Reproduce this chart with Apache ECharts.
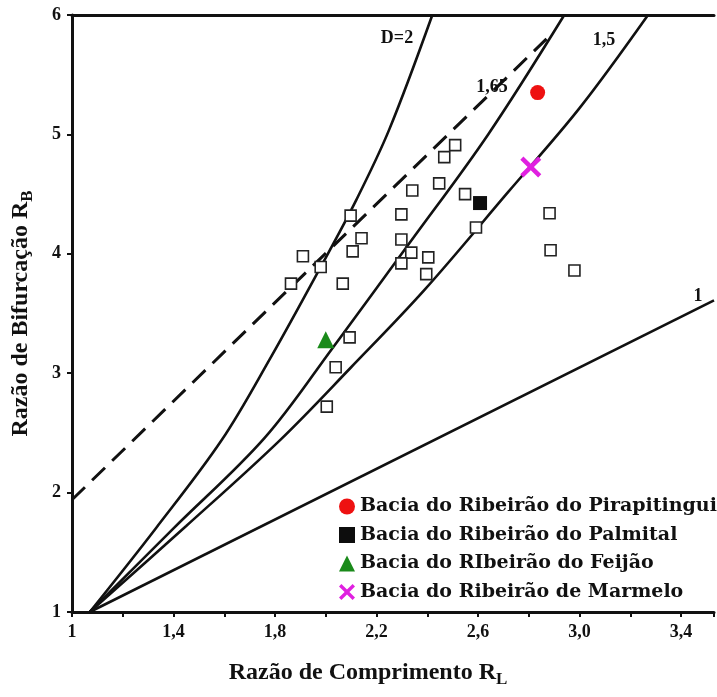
<!DOCTYPE html>
<html><head><meta charset="utf-8">
<script src="https://cdn.jsdelivr.net/npm/echarts@6/dist/echarts.min.js"></script>
<style>html,body{margin:0;padding:0;background:#fff}#c{width:717px;height:697px}</style>
</head><body><div id="c"></div>
<script>
// ---- data ----
const xTickValues = [1, 1.4, 1.8, 2.2, 2.6, 3.0, 3.4];
const xTickLabels = ['1', '1,4', '1,8', '2,2', '2,6', '3,0', '3,4'];
const yTickLabels = ['1', '2', '3', '4', '5', '6'];

const otherBasins = [
  [2.51, 4.91], [2.467, 4.81], [2.447, 4.59], [2.341, 4.53], [2.549, 4.50],
  [2.298, 4.33], [2.098, 4.32], [2.592, 4.22], [2.141, 4.13], [2.298, 4.12],
  [2.106, 4.02], [2.337, 4.01], [2.404, 3.97], [1.910, 3.98], [1.980, 3.89],
  [2.298, 3.92], [2.396, 3.83], [1.863, 3.75], [2.067, 3.75], [2.094, 3.30],
  [2.039, 3.05], [2.004, 2.72], [2.882, 4.34], [2.886, 4.03], [2.980, 3.86]
];
const pirapitingui = [[2.835, 5.35]];
const palmital = [[2.608, 4.425]];
const feijao = [[2.0, 3.28]];
const marmelo = [[2.808, 4.727]];

const lineD2 = [[1.07, 1.0], [1.33, 1.70], [1.59, 2.44], [1.78, 3.12], [1.98, 3.89], [2.12, 4.45], [2.25, 5.04], [2.42, 6.0]];
const lineD165 = [[1.07, 1.0], [1.40, 1.70], [1.76, 2.46], [2.03, 3.22], [2.33, 4.09], [2.64, 5.0], [2.94, 6.0]];
const lineD15 = [[1.07, 1.0], [1.45, 1.72], [1.82, 2.44], [2.10, 3.05], [2.39, 3.70], [2.72, 4.52], [3.0, 5.22], [3.27, 6.0]];
const lineD1 = [[1.07, 1.0], [3.53, 3.61]];
const dashedLine = [[1.0, 1.94], [2.87, 5.80]];

const legendNames = ['Bacia do Ribeirão do Pirapitingui', 'Bacia do Ribeirão do Palmital', 'Bacia do RIbeirão do Feijão', 'Bacia do Ribeirão de Marmelo'];
const lineLabels = ['D=2', '1,65', '1,5', '1'];

// ---- chart ----
const serif = '"Liberation Serif", "DejaVu Serif", serif';
const chart = echarts.init(document.getElementById('c'), null, {renderer: 'canvas'});
function curve(name, data, extra) {
  return Object.assign({
    name: name, type: 'line', data: data, symbol: 'none', smooth: 0.35,
    lineStyle: {color: '#111', width: 2.6}, silent: true, z: 2
  }, extra || {});
}
const xPath = 'path://M0,3 L3,0 L10,7 L17,0 L20,3 L13,10 L20,17 L17,20 L10,13 L3,20 L0,17 L7,10 Z';
const subStyle = {fontFamily: serif, fontWeight: 'bold', fontSize: 17, color: '#111', padding: [13, 0, 0, 0], verticalAlign: 'bottom'};

chart.setOption({
  animation: false,
  backgroundColor: '#fff',
  grid: {left: 72, right: 0, top: 15, bottom: 85, containLabel: false},
  xAxis: [{
    type: 'value', min: 1, max: 3.53, interval: 0.2,
    axisLine: {show: true, onZero: false, lineStyle: {color: '#111', width: 3}},
    axisTick: {show: true, length: 5, lineStyle: {color: '#111', width: 2}},
    splitLine: {show: false},
    axisLabel: {
      color: '#111', fontFamily: serif, fontWeight: 'bold', fontSize: 18, margin: 11,
      formatter: function (v) {
        for (let i = 0; i < xTickValues.length; i++) {
          if (Math.abs(v - xTickValues[i]) < 1e-6) return xTickLabels[i];
        }
        return '';
      }
    },
    name: 'Razão de Comprimento R{s|L}', nameLocation: 'middle', nameGap: 46,
    nameTextStyle: {color: '#111', fontFamily: serif, fontWeight: 'bold', fontSize: 24,
      padding: [0, 50, 0, 0], rich: {s: subStyle}}
  }, {
    type: 'value', min: 1, max: 3.53, position: 'top',
    axisLine: {show: true, onZero: false, lineStyle: {color: '#111', width: 3}},
    axisTick: {show: false}, axisLabel: {show: false}, splitLine: {show: false}
  }],
  yAxis: {
    type: 'value', min: 1, max: 6, interval: 1,
    axisLine: {show: true, onZero: false, lineStyle: {color: '#111', width: 3}},
    axisTick: {show: true, length: 5, lineStyle: {color: '#111', width: 2}},
    splitLine: {show: false},
    axisLabel: {color: '#111', fontFamily: serif, fontWeight: 'bold', fontSize: 18, margin: 11,
      formatter: function (v) { return yTickLabels[Math.round(v) - 1] || ''; }},
    name: 'Razão de Bifurcação R{s|B}', nameLocation: 'middle', nameGap: 36,
    nameTextStyle: {color: '#111', fontFamily: serif, fontWeight: 'bold', fontSize: 24,
      rich: {s: subStyle}}
  },
  legend: {
    orient: 'vertical', left: 334, top: 492, itemGap: 9.5, itemWidth: 16, itemHeight: 16,
    data: legendNames,
    textStyle: {color: '#111', fontFamily: '"DejaVu Serif", serif', fontWeight: 'bold', fontSize: 19},
    selectedMode: false
  },
  graphic: [
    {type: 'text', x: 397, y: 38, style: {text: lineLabels[0], font: 'bold 18px ' + serif, fill: '#111', align: 'center', verticalAlign: 'middle'}},
    {type: 'text', x: 492, y: 87, style: {text: lineLabels[1], font: 'bold 18px ' + serif, fill: '#111', align: 'center', verticalAlign: 'middle'}},
    {type: 'text', x: 604, y: 40, style: {text: lineLabels[2], font: 'bold 18px ' + serif, fill: '#111', align: 'center', verticalAlign: 'middle'}},
    {type: 'text', x: 698, y: 296, style: {text: lineLabels[3], font: 'bold 18px ' + serif, fill: '#111', align: 'center', verticalAlign: 'middle'}}
  ],
  series: [
    curve('D=2', lineD2),
    curve('1,65', lineD165),
    curve('1,5', lineD15),
    curve('1', lineD1, {smooth: false}),
    curve('dashed', dashedLine, {smooth: false, lineStyle: {color: '#111', width: 3, type: [18, 10]}}),
    {name: 'outras', type: 'scatter', data: otherBasins, symbol: 'rect', symbolSize: 11, z: 3,
      itemStyle: {color: '#fff', borderColor: '#222', borderWidth: 1.6, opacity: 1}},
    {name: legendNames[0], type: 'scatter', data: pirapitingui, symbol: 'circle', symbolSize: 15, z: 4,
      itemStyle: {color: '#ee1111', opacity: 1}},
    {name: legendNames[1], type: 'scatter', data: palmital, symbol: 'rect', symbolSize: 14, z: 4,
      itemStyle: {color: '#0d0d0d', opacity: 1}},
    {name: legendNames[2], type: 'scatter', data: feijao, symbol: 'triangle', symbolSize: 17, z: 4,
      itemStyle: {color: '#1a8a1a', opacity: 1}},
    {name: legendNames[3], type: 'scatter', data: marmelo, symbol: xPath, symbolSize: 21, z: 4,
      itemStyle: {color: '#e020e0', opacity: 1}}
  ]
});
</script>
</body></html>
